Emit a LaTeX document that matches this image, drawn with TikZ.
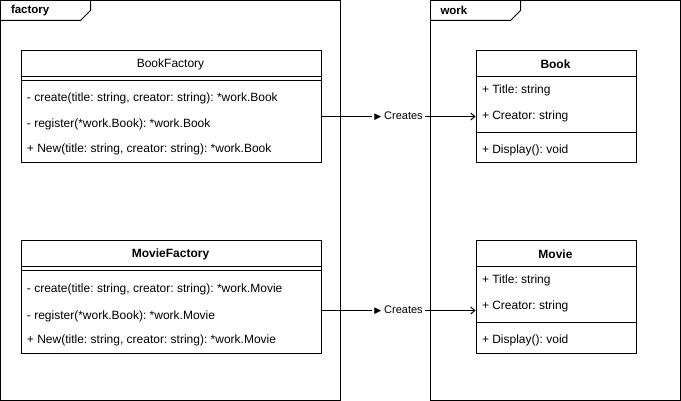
\documentclass[tikz,border=0pt]{standalone}
\usepackage{fontspec}
\setmainfont{Liberation Sans}
\newfontfamily\symfont{DejaVu Sans}
\usetikzlibrary{arrows.meta}
\frenchspacing

\begin{document}
\begin{tikzpicture}[x=1pt, y=-1pt, every node/.style={font=\fontsize{12}{14}\selectfont, inner sep=0pt}, every path/.style={line width=1pt}, >={Straight Barb[length=4,width=7]},%
        cls/.style={draw, rectangle, anchor=north west, minimum height=112}, row/.style={anchor=west}, title/.style={font=\fontsize{12}{14}\selectfont\bfseries}, pkgname/.style={anchor=west, font=\fontsize{11.5}{13}\selectfont\bfseries}, rel/.style={->}, rellabel/.style={fill=white, inner xsep=2pt, inner ysep=1pt, font=\fontsize{11}{13}\selectfont}]
        \useasboundingbox (0,0) rectangle (681,401);

        \draw (0.5,0.5) rectangle (340.5,400.5);
        \draw (0.5,20.5) -- (80.5,20.5) -- (90.5,10.5) -- (90.5,0.5);
        \node[pkgname] (factory) at (10.5,10.5) {factory};
        \draw (430.5,0.5) rectangle (680.5,400.5);
        \draw (430.5,20.5) -- (510.5,20.5) -- (520.5,10.5) -- (520.5,0.5);
        \node[pkgname] (work) at (440,10.5) {work};

        \node[cls, minimum width=300] (bookfactory) at (20.5,50.5) {};
        \node (bookfactoryname) at (170.5,64) {BookFactory};
        \draw (20.5,76.5) -- (320.5,76.5);
        \draw (20.5,80.5) -- (320.5,80.5);
        \node[row] (bfcreate) at (26.5,98.7) {- create(title: string, creator: string): *work.Book};
        \node[row] (bfregister) at (26.5,124.7) {- register(*work.Book): *work.Book};
        \node[row] (bfnew) at (26.5,149.5) {+ New(title: string, creator: string): *work.Book};

        \node[cls, minimum width=300] (moviefactory) at (20.5,240.5) {};
        \node[title] (moviefactoryname) at (170.5,254) {MovieFactory};
        \draw (20.5,266.5) -- (320.5,266.5);
        \draw (20.5,270.5) -- (320.5,270.5);
        \node[row] (mfcreate) at (26.5,289.3) {- create(title: string, creator: string): *work.Movie};
        \node[row] (mfregister) at (26.5,316) {- register(*work.Book): *work.Movie};
        \node[row] (mfnew) at (26.5,340) {+ New(title: string, creator: string): *work.Movie};

        \node[cls, minimum width=160] (book) at (475.5,50.5) {};
        \node[title] (bookname) at (555.5,64) {Book};
        \draw (475.5,76.5) -- (635.5,76.5);
        \draw (475.5,132.5) -- (635.5,132.5);
        \node[row] (booktitle) at (481.5,90) {+ Title: string};
        \node[row] (bookcreator) at (481.5,116.5) {+ Creator: string};
        \node[row] (bookdisplay) at (481.5,150.5) {+ Display(): void};

        \node[cls, minimum width=160] (movie) at (475.5,240.5) {};
        \node[title] (moviename) at (555.5,254) {Movie};
        \draw (475.5,266.5) -- (635.5,266.5);
        \draw (475.5,322.5) -- (635.5,322.5);
        \node[row] (movietitle) at (481.5,280.7) {+ Title: string};
        \node[row] (moviecreator) at (481.5,306.7) {+ Creator: string};
        \node[row] (moviedisplay) at (481.5,340.5) {+ Display(): void};

        \draw[rel] (bookfactory.east |- 0,116.5) -- node[rellabel] {{\symfont\fontsize{9}{9}\selectfont ▶} Creates} (book.west |- 0,116.5);
        \draw[rel] (moviefactory.east |- 0,310.5) -- node[rellabel] {{\symfont\fontsize{9}{9}\selectfont ▶} Creates} (movie.west |- 0,310.5);
    \end{tikzpicture}
\end{document}
